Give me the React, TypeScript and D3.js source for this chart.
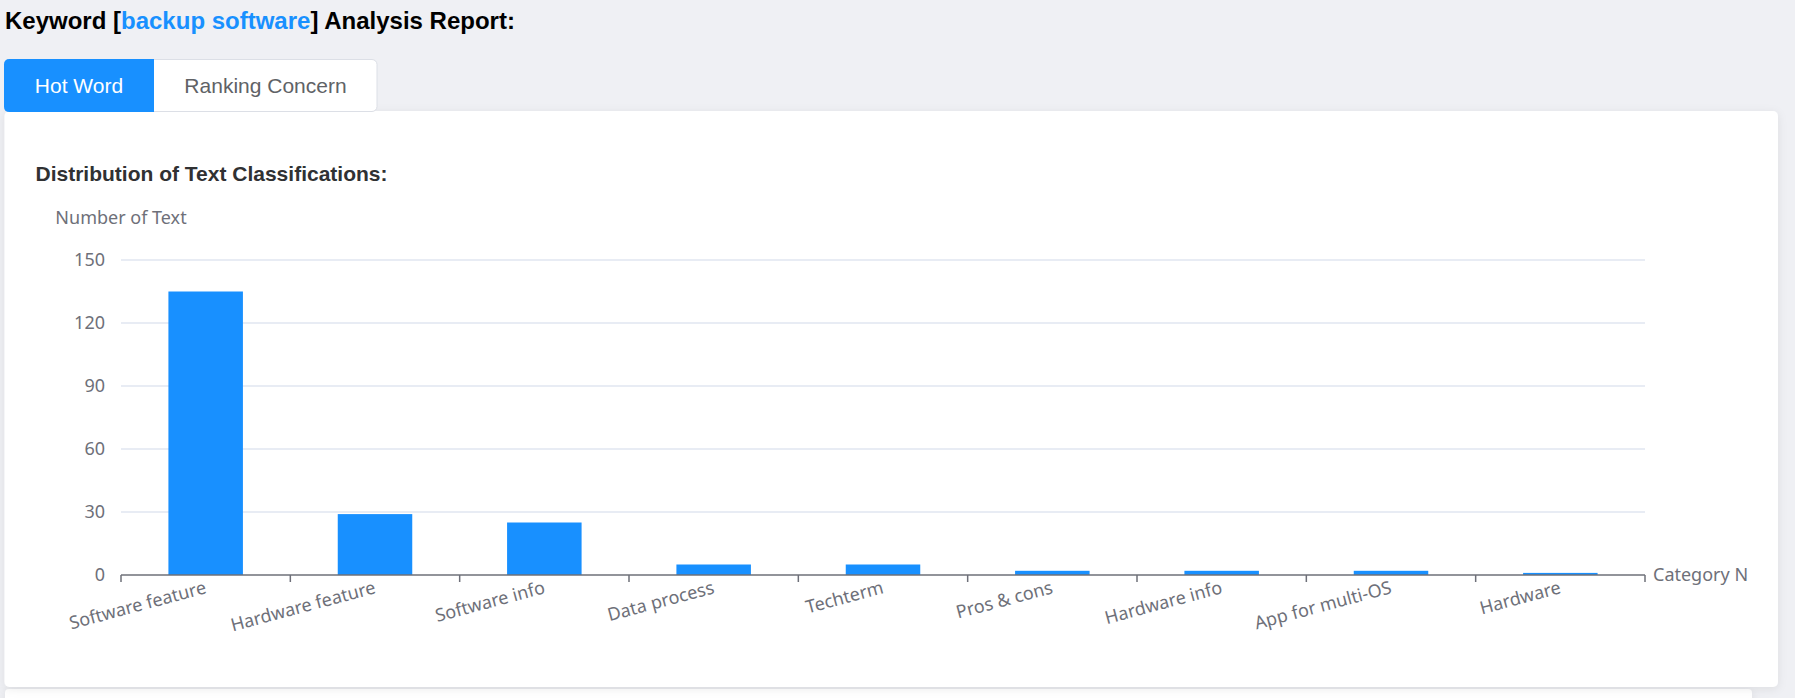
import React from "react";
import * as d3 from "d3";

const categories = [
  "Software feature",
  "Hardware feature",
  "Software info",
  "Data process",
  "Techterm",
  "Pros & cons",
  "Hardware info",
  "App for multi-OS",
  "Hardware",
];
const values = [135, 29, 25, 5, 5, 2, 2, 2, 1];
const yTicks = [0, 30, 60, 90, 120, 150];
const keyword = "backup software";
const tabs = ["Hot Word", "Ranking Concern"];
const chartTitle = "Distribution of Text Classifications:";
const yName = "Number of Text";
const xName = "Category Name";

const W = 1795;
const H = 698;
const plot = { left: 121, right: 1645, top: 260, bottom: 575 };
const chartFont = "'Noto Sans', 'Open Sans', sans-serif";
const uiFont = "'Liberation Sans', Arial, Helvetica, sans-serif";
const axisColor = "#6E7079";
const gridColor = "#E0E6F1";
const blue = "#1890ff";

export default function App() {
  const x = d3
    .scaleBand<string>()
    .domain(categories)
    .range([plot.left, plot.right])
    .paddingInner(0)
    .paddingOuter(0);
  const y = d3.scaleLinear().domain([0, 150]).range([plot.bottom, plot.top]);
  const bw = x.bandwidth();
  const barW = bw * 0.44;
  const tickXs = categories.map((c) => x(c) as number).concat([plot.right]);

  return (
    <svg
      width={W}
      height={H}
      style={{ position: "absolute", left: 0, top: 0, display: "block" }}
    >
      <defs>
        <filter id="shadow" x="-5%" y="-5%" width="110%" height="110%">
          <feDropShadow dx="0" dy="2" stdDeviation="5" floodColor="#000" floodOpacity="0.08" />
        </filter>
        <clipPath id="chartClip">
          <rect x={0} y={120} width={1748} height={560} />
        </clipPath>
      </defs>
      <rect x={0} y={0} width={W} height={H} fill="#eff0f4" />

      {/* Page title */}
      <text x={5} y={29} fontFamily={uiFont} fontSize={24} fontWeight="bold" fill="#000">
        Keyword [<tspan fill={blue}>{keyword}</tspan>] Analysis Report:
      </text>

      {/* Bottom panel (next card) */}
      <rect x={5} y={689} width={1747} height={30} rx={4} fill="#fff" filter="url(#shadow)" />

      {/* Card */}
      <rect x={4.5} y={111} width={1773.5} height={576} rx={5} fill="#fff" filter="url(#shadow)" />

      {/* Tabs */}
      <rect x={4.5} y={59.5} width={372.5} height={52} rx={5} fill="#fff" stroke="#dcdfe6" strokeWidth={1} />
      <path
        d={`M154,59 L9.5,59 Q4,59 4,64.5 L4,106.5 Q4,112 9.5,112 L154,112 Z`}
        fill={blue}
      />
      <text x={79} y={93} textAnchor="middle" fontFamily={uiFont} fontSize={21} fill="#fff">
        {tabs[0]}
      </text>
      <text x={265.5} y={93} textAnchor="middle" fontFamily={uiFont} fontSize={21} fill="#606266">
        {tabs[1]}
      </text>

      {/* Chart title */}
      <text x={35.5} y={181} fontFamily={uiFont} fontSize={21} fontWeight="bold" fill="#303133">
        {chartTitle}
      </text>

      <g clipPath="url(#chartClip)">
        {/* grid lines */}
        {yTicks.map((t) =>
          t === 0 ? null : (
            <line
              key={"g" + t}
              x1={plot.left}
              x2={plot.right}
              y1={y(t)}
              y2={y(t)}
              stroke={gridColor}
              strokeWidth={1.5}
            />
          )
        )}
        {/* y tick labels */}
        {yTicks.map((t) => (
          <text
            key={"yl" + t}
            x={105}
            y={y(t)}
            dy="0.34em"
            textAnchor="end"
            fontFamily={chartFont}
            fontSize={18}
            fill={axisColor}
          >
            {t}
          </text>
        ))}
        {/* y axis name */}
        <text x={plot.left} y={224} textAnchor="middle" fontFamily={chartFont} fontSize={18} fill={axisColor}>
          {yName}
        </text>

        {/* bars */}
        {categories.map((c, i) => (
          <rect
            key={"b" + c}
            x={(x(c) as number) + (bw - barW) / 2}
            y={y(values[i])}
            width={barW}
            height={y(0) - y(values[i])}
            fill={blue}
          />
        ))}

        {/* x axis */}
        <line x1={plot.left} x2={plot.right} y1={plot.bottom} y2={plot.bottom} stroke={axisColor} strokeWidth={1.5} />
        {tickXs.map((tx, i) => (
          <line key={"t" + i} x1={tx} x2={tx} y1={plot.bottom} y2={plot.bottom + 7} stroke={axisColor} strokeWidth={1.5} />
        ))}
        {categories.map((c) => {
          const cx = (x(c) as number) + bw / 2;
          const cy = plot.bottom + 12;
          return (
            <text
              key={"xl" + c}
              transform={`translate(${cx},${cy}) rotate(-15)`}
              textAnchor="end"
              dy="0.34em"
              fontFamily={chartFont}
              fontSize={18}
              fill={axisColor}
            >
              {c}
            </text>
          );
        })}
        <text x={1653} y={plot.bottom} dy="0.34em" fontFamily={chartFont} fontSize={18} fill={axisColor}>
          {xName}
        </text>
      </g>
    </svg>
  );
}
